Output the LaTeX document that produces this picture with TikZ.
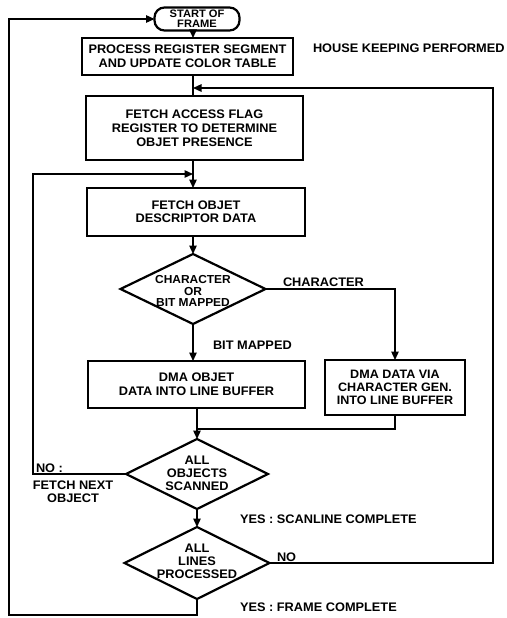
\documentclass[tikz,border=0pt]{standalone}
\usepackage{fontspec}
\setmainfont{Liberation Sans}[FakeStretch=1.03]
\usetikzlibrary{shapes.geometric,arrows.meta}
\begin{document}
\begin{tikzpicture}[x=1pt,y=-1pt,
  every node/.style={font=\bfseries\fontsize{12.4}{13.8}\selectfont, inner sep=0pt, outer sep=0pt},
  box/.style={draw, line width=2.4pt, align=center, minimum width=#1},
  term/.style={draw, line width=2.2pt, rounded corners=10pt, align=center},
  dia/.style={draw, diamond, line width=2.2pt},
  dtext/.style={align=center},
  conn/.style={line width=1.3pt},
  arr/.style={conn, -{Triangle[length=8.5pt,width=7.5pt]}},
  lbl/.style={anchor=west}
]
\useasboundingbox (0,0) rectangle (506,618);
\coordinate (colA) at (193,0);

% nodes
\node[term, minimum width=85, minimum height=23, font=\bfseries\fontsize{10.8}{10.2}\selectfont] (start) at (197,19) {START OF\\FRAME};
\node[box=211, minimum height=37] (proc) at (187.5,56.5) {PROCESS REGISTER SEGMENT\\AND UPDATE COLOR TABLE};
\node[box=217, minimum height=64] (fa) at (194.5,128) {FETCH ACCESS FLAG\\REGISTER TO DETERMINE\\OBJET PRESENCE};
\node[box=218, minimum height=48, font=\bfseries\fontsize{12.4}{12.8}\selectfont] (fo) at (196,212) {FETCH OBJET\\DESCRIPTOR DATA};
\node[dia, minimum width=145, minimum height=70] (d1) at (193,289) {};
\node[dtext, font=\bfseries\fontsize{11.6}{11.2}\selectfont] (d1t) at (193,291) {CHARACTER\\OR\\BIT MAPPED};
\node[box=217, minimum height=47] (dma1) at (196.5,384.5) {DMA OBJET\\DATA INTO LINE BUFFER};
\node[box=140, minimum height=55, font=\bfseries\fontsize{12.2}{13}\selectfont] (dma2) at (395,387.5) {DMA DATA VIA\\CHARACTER GEN.\\INTO LINE BUFFER};
\node[dia, minimum width=142, minimum height=70] (d2) at (197,474) {};
\node[dtext, font=\bfseries\fontsize{12.4}{13}\selectfont] (d2t) at (197,473) {ALL\\OBJECTS\\SCANNED};
\node[dia, minimum width=145, minimum height=72] (d3) at (197,563) {};
\node[dtext, font=\bfseries\fontsize{12.4}{12.8}\selectfont] (d3t) at (197,561) {ALL\\LINES\\PROCESSED};

% labels
\node[lbl] (hk) at (313,48) {HOUSE KEEPING PERFORMED};
\node[lbl] (lc) at (283,282) {CHARACTER};
\node[lbl] (lb) at (213,345) {BIT MAPPED};
\node[lbl] (lno1) at (36,468) {NO :};
\node[align=center, font=\bfseries\fontsize{12.4}{13}\selectfont] (lfn) at (73,492) {FETCH NEXT\\OBJECT};
\node[lbl] (lys) at (240,519) {YES : SCANLINE COMPLETE};
\node[lbl] (lno2) at (277,557) {NO};
\node[lbl] (lyf) at (240,607) {YES : FRAME COMPLETE};

% junction coordinates
\coordinate (j1) at (193,88);
\coordinate (j2) at (193,174);
\coordinate (m) at (197,429);
\coordinate (LB) at (9,615);
\coordinate (RX) at (493,0);
\coordinate (LX) at (33,0);

% connectors
\draw[arr] (start.south -| colA) -- (proc.north -| colA);
\draw[conn] (proc.south -| colA) -- (fa.north -| colA);
\draw[arr] (fa.south -| colA) -- (fo.north -| colA);
\draw[arr] (fo.south -| d1) -- (d1.north);
\draw[arr] (d1.east) -- (d1.east -| dma2) -- (dma2.north);
\draw[arr] (d1.south) -- (dma1.north -| d1.south);
\draw[conn] (dma1.south -| m) -- (m);
\draw[conn] (dma2.south) |- (m);
\draw[arr] (m) -- (d2.north);
\draw[arr] (d2.south) -- (d3.north);
\draw[arr] (d2.west) -- (d2.west -| LX) -- (LX |- j2) -- (j2);
\draw[arr] (d3.east) -- (d3.east -| RX) -- (RX |- j1) -- (j1);
\draw[arr] (d3.south) -- (d3.south |- LB) -- (LB) -- (LB |- start.west) -- (start.west);
\end{tikzpicture}
\end{document}
